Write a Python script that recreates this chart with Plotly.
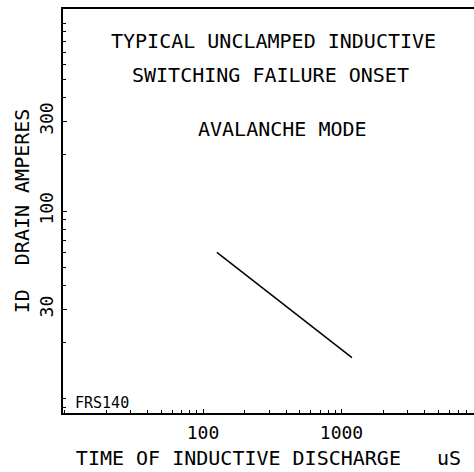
import plotly.graph_objects as go

# Data
time_us = [126, 1190]
drain_amps = [60.3, 16.6]

x_tickvals = [100, 1000]
x_ticktext = ["100", "1000"]
y_tickvals = [30, 100, 300]
y_ticktext = ["30", "100", "300"]

x_minor = [m * 10 ** d for d in range(1, 4) for m in range(1, 10)]
y_minor = [m * 10 ** d for d in range(0, 4) for m in range(1, 10)]

FONT = "DejaVu Sans Mono"

fig = go.Figure()
fig.add_trace(go.Scatter(
    x=time_us, y=drain_amps, mode="lines",
    line=dict(color="black", width=1.5), showlegend=False,
))

fig.update_layout(
    width=474, height=472,
    margin=dict(l=63, r=0, t=9, b=59),
    paper_bgcolor="white", plot_bgcolor="white",
    font=dict(family=FONT, size=20, color="black"),
    xaxis=dict(
        type="log", range=[0.989, 3.957],
        showline=True, linecolor="black", linewidth=1.5, mirror=True,
        showgrid=False, zeroline=False,
        tickmode="array", tickvals=x_tickvals, ticktext=x_ticktext,
        ticks="inside", ticklen=4, tickcolor="black",
        tickfont=dict(family=FONT, size=18),
        ticklabelstandoff=3,
        minor=dict(tickmode="array", tickvals=x_minor, ticks="inside",
                   ticklen=3, tickcolor="black", showgrid=False),
        title=dict(text="TIME OF INDUCTIVE DISCHARGE   uS",
                   font=dict(family=FONT, size=20), standoff=9),
    ),
    yaxis=dict(
        type="log", range=[0.9255, 3.0745],
        showline=True, linecolor="black", linewidth=1.5, mirror=False,
        showgrid=False, zeroline=False,
        tickmode="array", tickvals=y_tickvals, ticktext=y_ticktext,
        ticks="inside", ticklen=4, tickcolor="black",
        tickangle=-90,
        tickfont=dict(family=FONT, size=18),
        ticklabelstandoff=1,
        minor=dict(tickmode="array", tickvals=y_minor, ticks="inside",
                   ticklen=3, tickcolor="black", showgrid=False),
        title=dict(text="ID  DRAIN AMPERES",
                   font=dict(family=FONT, size=20), standoff=1),
    ),
    annotations=[
        dict(text="TYPICAL UNCLAMPED INDUCTIVE", x=0.511, y=0.921,
             xref="paper", yref="paper", showarrow=False,
             xanchor="center", yanchor="middle", font=dict(size=20)),
        dict(text="SWITCHING FAILURE ONSET", x=0.504, y=0.837,
             xref="paper", yref="paper", showarrow=False,
             xanchor="center", yanchor="middle", font=dict(size=20)),
        dict(text="AVALANCHE MODE", x=0.533, y=0.702,
             xref="paper", yref="paper", showarrow=False,
             xanchor="center", yanchor="middle", font=dict(size=20)),
        dict(text="FRS140", x=0.025, y=0.025,
             xref="paper", yref="paper", showarrow=False,
             xanchor="left", yanchor="middle", font=dict(size=15)),
    ],
)

fig.write_html(
    "out.html",
    config={"displayModeBar": False},
    post_script="document.body.style.margin='0';document.body.style.overflow='hidden';",
)
